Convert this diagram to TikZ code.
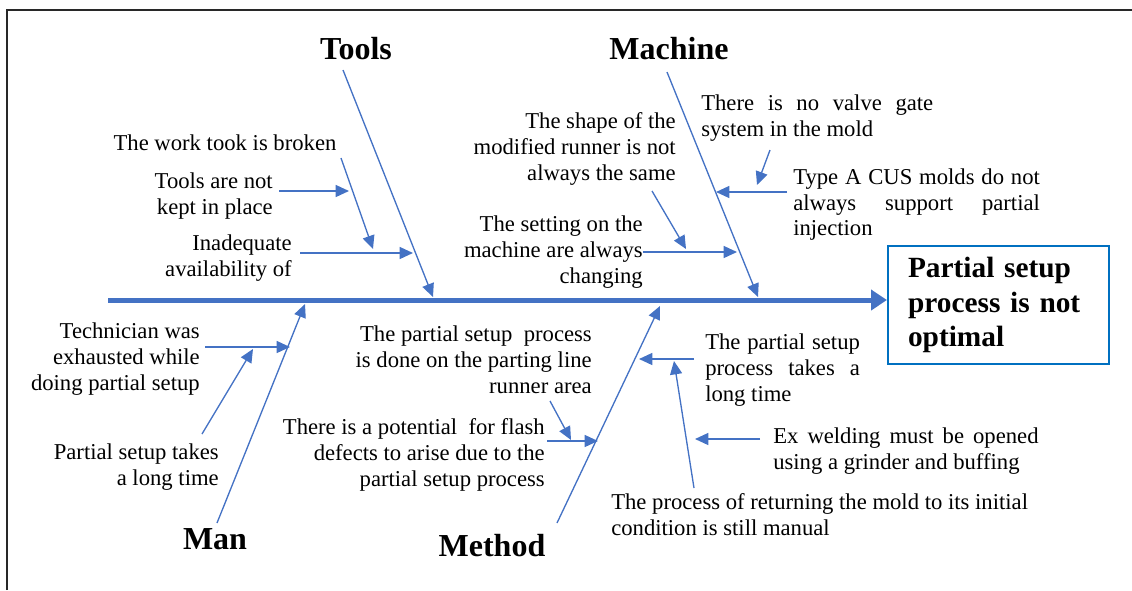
\documentclass[tikz,border=0pt]{standalone}
\usepackage{fontspec}
\setmainfont{Liberation Serif}
\usetikzlibrary{arrows.meta,positioning}
\definecolor{boneblue}{RGB}{68,114,196}
\definecolor{boxblue}{RGB}{0,112,192}
\definecolor{framegray}{RGB}{40,40,40}
\begin{document}
\begin{tikzpicture}[x=0.75pt,y=-0.75pt,
    bone/.style={draw=boneblue, line width=1pt, -{Triangle[length=10pt,width=9pt]}},
    spine/.style={draw=boneblue, line width=3.75pt, -{Triangle[length=12pt,width=15pt]}},
    cause/.style={inner sep=0pt},
    category/.style={inner sep=0pt, font=\fontsize{24}{28}\selectfont\bfseries},
    effect/.style={draw=boxblue, line width=1.6pt, inner xsep=15pt, text width=136pt, align=left,
        minimum width=166pt, minimum height=88.5pt, font=\fontsize{22}{26}\selectfont\bfseries}]
            \tikzstyle{every node}=[font=\fontsize{17}{19.5}\selectfont]
            \useasboundingbox (0,0) rectangle (1132,590);
            \draw[framegray, line width=0.8pt] (7,590) -- (7,10) -- (1132,10);

              % head and spine
              \node[effect, anchor=north west] (problem) at (887,245) {Partial setup\\process is not\\optimal};
              \coordinate (tail) at (108,300);
              \draw[spine] (tail) -- (tail -| problem.west);

              % categories
              \node[category] (tools) at (356,49) {Tools};
              \node[category] (machine) at (669,49) {Machine};
              \node[category] (man) at (215,539) {Man};
              \node[category] (method) at (492,546) {Method};

              \coordinate (toolsA) at (343,70);   \coordinate (toolsB) at (433,297);
              \coordinate (machineA) at (667,72); \coordinate (machineB) at (758,297);
              \coordinate (manA) at (217,523);    \coordinate (manB) at (305,304);
              \coordinate (methodA) at (557,523); \coordinate (methodB) at (660,306);
              \draw[bone] (toolsA) -- (toolsB);
              \draw[bone] (machineA) -- (machineB);
              \draw[bone] (manA) -- (manB);
              \draw[bone] (methodA) -- (methodB);

              % tools
              \node[cause, anchor=north, align=center] (broken) at (225,135) {The work took is broken};
              \node[cause, anchor=north east, align=right] (place) at (273,172) {Tools are not\\kept in place};
              \node[cause, anchor=north east, align=right] (avail) at (292,234) {Inadequate\\availability of};
              \coordinate (t1a) at (341,158); \coordinate (t1b) at (373,249);
              \coordinate (t2a) at (279,191); \coordinate (t2b) at (349,191);
              \coordinate (t3a) at (300,253); \coordinate (t3b) at (413,253);
              \draw[bone] (t1a) -- (t1b);
              \draw[bone] (t2a) -- (t2b);
              \draw[bone] (t3a) -- (t3b);

              % machine
              \node[cause, anchor=north east, align=right] (shape) at (676,112) {The shape of the\\modified runner is not\\always the same};
              \node[cause, anchor=north east, align=right] (setting) at (643,215) {The setting on the\\machine are always\\changing};
              \node[cause, anchor=north west, text width=174pt, align=justify] (valve) at (701,95) {There is no valve gate\linebreak system in the mold};
              \node[cause, anchor=north west, text width=185pt, align=justify] (cus) at (793,168) {Type A CUS molds do not\linebreak always support partial\linebreak injection};
              \coordinate (m1a) at (652,191); \coordinate (m1b) at (686,249);
              \coordinate (m2a) at (643,252); \coordinate (m2b) at (737,252);
              \coordinate (m3a) at (770,150); \coordinate (m3b) at (757,185);
              \coordinate (m4a) at (787,192); \coordinate (m4b) at (716,192);
              \draw[bone] (m1a) -- (m1b);
              \draw[bone] (m2a) -- (m2b);
              \draw[bone] (m3a) -- (m3b);
              \draw[bone] (m4a) -- (m4b);

              % man
              \node[cause, anchor=north east, align=right] (tired) at (200,322) {Technician was\\exhausted while\\doing partial setup};
              \node[cause, anchor=north east, align=right] (slow) at (219,443) {Partial setup takes\\a long time};
              \coordinate (p1a) at (205,347); \coordinate (p1b) at (290,347);
              \coordinate (p2a) at (202,434); \coordinate (p2b) at (253,349);
              \draw[bone] (p1a) -- (p1b);
              \draw[bone] (p2a) -- (p2b);

              % method
              \node[cause, anchor=north east, align=right] (parting) at (592,325) {The partial setup~ process\\is done on the parting line\\runner area};
              \node[cause, anchor=north east, align=right] (flash) at (545,418) {There is a potential~ for flash\\defects to arise due to the\\partial setup process};
              \node[cause, anchor=north west, text width=116pt, align=justify] (takes) at (705,333) {The partial setup\linebreak process takes a\linebreak long time};
              \node[cause, anchor=north west, text width=199pt, align=justify] (grind) at (773,427) {Ex welding must be opened\linebreak using a grinder and buffing};
              \node[cause, anchor=north west, align=left] (manual) at (611,493) {The process of returning the mold to its initial\\condition is still manual};
              \coordinate (d1a) at (550,401); \coordinate (d1b) at (571,440);
              \coordinate (d2a) at (547,441); \coordinate (d2b) at (598,441);
              \coordinate (d3a) at (694,359); \coordinate (d3b) at (639,359);
              \coordinate (d4a) at (760,439); \coordinate (d4b) at (695,439);
              \coordinate (d5a) at (694,488); \coordinate (d5b) at (674,361);
              \draw[bone] (d1a) -- (d1b);
              \draw[bone] (d2a) -- (d2b);
              \draw[bone] (d3a) -- (d3b);
              \draw[bone] (d4a) -- (d4b);
              \draw[bone] (d5a) -- (d5b);
\end{tikzpicture}
\end{document}
